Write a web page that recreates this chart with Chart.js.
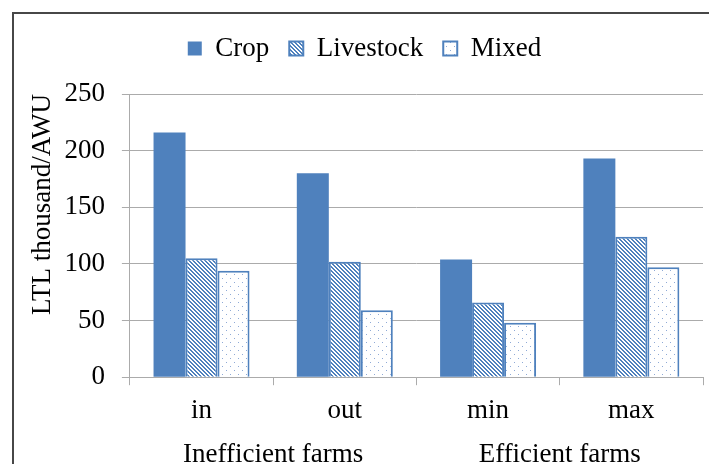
<!DOCTYPE html>
<html>
<head>
<meta charset="utf-8">
<script src="https://cdn.jsdelivr.net/npm/chart.js@4/dist/chart.umd.min.js"></script>
<style>
  body { margin: 0; background: #fff; }
  #chart { display: block; }
</style>
</head>
<body>
<canvas id="chart" width="709" height="464"></canvas>
<script>
const categories = ['in', 'out', 'min', 'max'];
const groups = ['Inefficient farms', 'Efficient farms'];
const crop = [216, 180, 104, 193];
const livestock = [105, 102, 66, 124];
const mixed = [94, 59, 48, 97];
const yTicks = { min: 0, max: 250, step: 50 };

const blue = '#4F81BD';
const serif = 'Liberation Serif, Times New Roman, serif';
const fontSize = 27;

// diagonal hatch for Livestock
function hatchPattern() {
    const c = document.createElement('canvas');
    c.width = 4; c.height = 4;
    const g = c.getContext('2d');
    g.fillStyle = '#fff';
    g.fillRect(0, 0, 4, 4);
    g.fillStyle = blue;
    for (let y = 0; y < 4; y++) {
        g.fillRect(y % 4, y, 1, 1);
        g.fillRect((y + 1) % 4, y, 1, 1);
    }
    return g.createPattern(c, 'repeat');
}

// sparse dots for Mixed
function dotPattern() {
    const c = document.createElement('canvas');
    c.width = 8; c.height = 8;
    const g = c.getContext('2d');
    g.fillStyle = '#fff';
    g.fillRect(0, 0, 8, 8);
    g.fillStyle = '#8FAAD6';
    g.fillRect(2, 2, 1, 1);
    g.fillRect(6, 6, 1, 1);
    return g.createPattern(c, 'repeat');
}

// frame line on left and top, as in the source picture
const framePlugin = {
    id: 'frame',
    beforeDraw(chart) {
        const ctx = chart.ctx;
        ctx.save();
        ctx.strokeStyle = '#474747';
        ctx.lineWidth = 2;
        ctx.beginPath();
        ctx.moveTo(13, chart.height);
        ctx.lineTo(13, 13);
        ctx.lineTo(chart.width, 13);
        ctx.stroke();
        ctx.restore();
    }
};

// extra room under the legend
const legendMargin = {
    id: 'legendMargin',
    beforeInit(chart) {
        const fit = chart.legend.fit;
        chart.legend.fit = function () {
            fit.bind(chart.legend)();
            this.height += 22;
        };
    }
};

const canvas = document.getElementById('chart');

new Chart(canvas, {
    type: 'bar',
    data: {
        labels: categories,
        datasets: [
            { label: 'Crop', data: crop, backgroundColor: blue, borderColor: blue, borderWidth: 0 },
            { label: 'Livestock', data: livestock, backgroundColor: hatchPattern(), borderColor: blue, borderWidth: 2 },
            { label: 'Mixed', data: mixed, backgroundColor: dotPattern(), borderColor: blue, borderWidth: 2 }
        ]
    },
    options: {
        responsive: false,
        animation: false,
        events: [],
        datasets: {
            bar: { categoryPercentage: 0.67, barPercentage: 1.0 }
        },
        layout: { padding: { left: 26, right: 6, top: 15, bottom: -8 } },
        plugins: {
            tooltip: { enabled: false },
            legend: {
                position: 'top',
                align: 'center',
                labels: {
                    color: '#000',
                    font: { family: serif, size: fontSize },
                    boxWidth: 14,
                    boxHeight: 14,
                    padding: 20
                }
            }
        },
        scales: {
            x: {
                type: 'category',
                position: 'bottom',
                grid: { drawOnChartArea: false, drawTicks: true, tickLength: 8, color: '#ABABAB' },
                border: { display: true, color: '#ABABAB', width: 1 },
                ticks: { color: '#000', font: { family: serif, size: fontSize }, padding: 10, maxRotation: 0 }
            },
            x2: {
                type: 'category',
                position: 'bottom',
                labels: groups,
                offset: true,
                grid: { display: false, drawTicks: false },
                border: { display: false },
                ticks: { color: '#000', font: { family: serif, size: fontSize }, padding: 1, maxRotation: 0 }
            },
            y: {
                min: yTicks.min,
                max: yTicks.max,
                grid: { color: '#ABABAB', lineWidth: 1, tickLength: 8 },
                border: { display: true, color: '#ABABAB', width: 1 },
                ticks: {
                    stepSize: yTicks.step,
                    color: '#000',
                    font: { family: serif, size: fontSize },
                    padding: 17
                },
                title: {
                    display: true,
                    text: 'LTL thousand/AWU',
                    align: 'end',
                    color: '#000',
                    font: { family: serif, size: fontSize },
                    padding: { top: 1, bottom: -12 }
                }
            }
        }
    },
    plugins: [framePlugin, legendMargin]
});
</script>
</body>
</html>
